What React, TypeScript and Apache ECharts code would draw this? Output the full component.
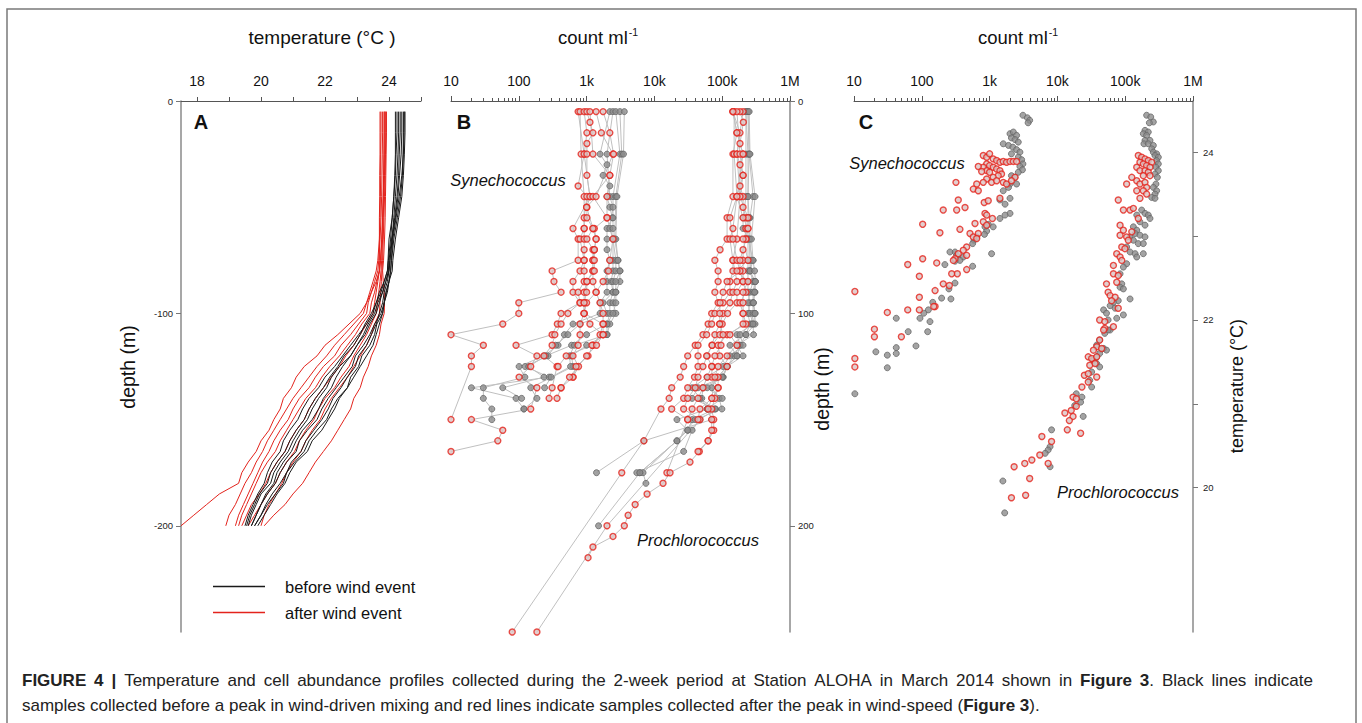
import React, { useEffect, useRef } from 'react';
import * as echarts from 'echarts';

const FONT = '"Liberation Sans", Arial, Helvetica, sans-serif';

// ---------- Panel A: temperature profiles (depth m, temperature °C) ----------
const depthsA = [5, 15, 25, 35, 45, 55, 65, 75, 80, 85, 90, 95, 100, 105, 110, 115, 120, 125, 130, 135, 140, 145, 150, 155, 160, 165, 170, 175, 180, 185, 190, 195, 200];
const tempBefore = [
  [24.45, 24.45, 24.44, 24.42, 24.36, 24.26, 24.15, 24.08, 24.05, 24.0, 23.95, 23.85, 23.8, 23.62, 23.55, 23.4, 23.15, 23.05, 22.8, 22.7, 22.45, 22.3, 22.1, 21.9, 21.6, 21.45, 21.1, 20.9, 20.75, 20.5, 20.3, 20.1, 19.9],
  [24.3, 24.3, 24.28, 24.25, 24.2, 24.15, 24.1, 24.03, 24.0, 23.9, 23.8, 23.7, 23.6, 23.4, 23.25, 23.0, 22.8, 22.45, 22.2, 22.05, 21.8, 21.6, 21.45, 21.2, 21.0, 20.85, 20.6, 20.4, 20.3, 20.0, 19.85, 19.7, 19.6],
  [24.5, 24.5, 24.48, 24.45, 24.4, 24.3, 24.2, 24.12, 24.1, 24.0, 23.9, 23.85, 23.75, 23.55, 23.4, 23.2, 22.95, 22.85, 22.6, 22.35, 22.1, 21.9, 21.75, 21.45, 21.2, 21.1, 20.8, 20.6, 20.45, 20.2, 20.0, 19.85, 19.7],
  [24.2, 24.2, 24.2, 24.18, 24.15, 24.1, 24.05, 23.98, 23.95, 23.85, 23.75, 23.6, 23.5, 23.3, 23.05, 22.8, 22.55, 22.3, 22.0, 21.8, 21.5, 21.3, 21.15, 20.9, 20.7, 20.6, 20.35, 20.2, 20.1, 19.9, 19.75, 19.6, 19.5],
  [24.4, 24.4, 24.38, 24.33, 24.28, 24.2, 24.1, 24.03, 24.0, 23.95, 23.85, 23.8, 23.7, 23.6, 23.45, 23.3, 23.05, 22.95, 22.7, 22.5, 22.25, 22.1, 21.9, 21.65, 21.4, 21.25, 20.95, 20.8, 20.6, 20.35, 20.15, 20.0, 19.8],
  [24.35, 24.35, 24.32, 24.3, 24.25, 24.18, 24.08, 24.0, 23.98, 23.9, 23.8, 23.65, 23.55, 23.35, 23.2, 23.0, 22.8, 22.55, 22.35, 22.2, 21.95, 21.8, 21.6, 21.3, 21.1, 20.95, 20.7, 20.5, 20.4, 20.15, 20.0, 19.85, 19.7],
  [24.25, 24.25, 24.22, 24.2, 24.15, 24.1, 24.0, 23.97, 23.95, 23.85, 23.7, 23.6, 23.45, 23.25, 23.1, 22.9, 22.6, 22.4, 22.15, 21.95, 21.7, 21.5, 21.35, 21.1, 20.9, 20.75, 20.5, 20.3, 20.2, 19.95, 19.8, 19.65, 19.55],
  [24.48, 24.47, 24.45, 24.4, 24.32, 24.22, 24.12, 24.07, 24.05, 24.0, 23.92, 23.85, 23.8, 23.7, 23.6, 23.5, 23.3, 23.1, 22.9, 22.7, 22.4, 22.2, 22.05, 21.75, 21.5, 21.35, 21.05, 20.8, 20.7, 20.45, 20.2, 20.0, 19.8],
];
const tempAfter = [
  [23.85, 23.85, 23.84, 23.83, 23.82, 23.8, 23.78, 23.74, 23.7, 23.6, 23.45, 23.3, 23.1, 22.75, 22.4, 22.0, 21.75, 21.35, 21.1, 20.95, 20.7, 20.6, 20.4, 20.25, 20.0, 19.85, 19.6, 19.4, 19.3, 18.7, 18.3, 17.9, 17.5],
  [23.92, 23.92, 23.91, 23.9, 23.89, 23.88, 23.86, 23.83, 23.8, 23.82, 23.85, 23.86, 23.85, 23.75, 23.7, 23.6, 23.45, 23.35, 23.2, 23.1, 22.9, 22.8, 22.6, 22.4, 22.2, 21.95, 21.7, 21.5, 21.3, 21.0, 20.75, 20.4, 20.1],
  [23.75, 23.75, 23.74, 23.74, 23.73, 23.72, 23.7, 23.65, 23.6, 23.5, 23.4, 23.3, 23.2, 22.9, 22.6, 22.3, 22.05, 21.75, 21.5, 21.25, 21.0, 20.8, 20.6, 20.4, 20.2, 20.05, 19.85, 19.7, 19.5, 19.35, 19.2, 19.0, 18.9],
  [23.85, 23.85, 23.85, 23.84, 23.82, 23.8, 23.77, 23.73, 23.7, 23.62, 23.55, 23.45, 23.4, 23.15, 22.95, 22.7, 22.45, 22.15, 21.9, 21.7, 21.4, 21.2, 21.0, 20.8, 20.6, 20.45, 20.2, 20.0, 19.85, 19.7, 19.55, 19.4, 19.3],
  [23.8, 23.8, 23.79, 23.78, 23.77, 23.75, 23.72, 23.68, 23.65, 23.55, 23.45, 23.35, 23.3, 23.05, 22.8, 22.5, 22.3, 21.95, 21.7, 21.5, 21.2, 21.0, 20.85, 20.6, 20.4, 20.25, 20.05, 19.9, 19.75, 19.6, 19.45, 19.3, 19.2],
  [23.88, 23.88, 23.87, 23.86, 23.84, 23.82, 23.8, 23.77, 23.75, 23.72, 23.68, 23.64, 23.6, 23.45, 23.3, 23.1, 22.9, 22.75, 22.5, 22.3, 22.0, 21.8, 21.65, 21.4, 21.2, 21.05, 20.8, 20.6, 20.45, 20.2, 20.0, 19.8, 19.6],
  [23.72, 23.72, 23.72, 23.71, 23.71, 23.7, 23.7, 23.7, 23.7, 23.65, 23.6, 23.55, 23.5, 23.3, 23.1, 22.9, 22.65, 22.45, 22.2, 21.95, 21.7, 21.5, 21.35, 21.1, 20.9, 20.75, 20.5, 20.3, 20.15, 19.95, 19.7, 19.55, 19.4],
  [23.9, 23.9, 23.89, 23.88, 23.86, 23.84, 23.82, 23.8, 23.78, 23.76, 23.74, 23.72, 23.7, 23.55, 23.45, 23.3, 23.1, 22.9, 22.7, 22.45, 22.2, 22.0, 21.85, 21.6, 21.4, 21.25, 21.0, 20.8, 20.65, 20.45, 20.25, 20.1, 20.0],
];

// ---------- Panel B: cell count profiles ([count per ml, depth m]) ----------
const synAfter = [
  [[750, 5], [920, 25], [1120, 45], [630, 60], [750, 65], [750, 75], [310, 80], [330, 85], [420, 90], [100, 95], [100, 100], [58, 105], [10, 110], [30, 115], [20, 120], [20, 125], [10, 150]],
  [[800, 5], [830, 25], [920, 45], [920, 60], [800, 65], [920, 75], [800, 80], [630, 85], [630, 90], [800, 95], [420, 100], [370, 105], [310, 110], [91, 115], [185, 120], [150, 125], [101, 130], [185, 135], [150, 145], [20, 150], [58, 155], [49, 160], [10, 165]],
  [[920, 5], [1010, 15], [920, 25], [750, 40], [1010, 45], [920, 55], [920, 60], [920, 65], [920, 70], [920, 75], [920, 80], [920, 85], [750, 90], [800, 95], [530, 100], [420, 105], [340, 110], [310, 115], [235, 120], [366, 125], [310, 135], [280, 140]],
  [[1010, 5], [1120, 10], [1240, 15], [1010, 20], [1010, 25], [1010, 35], [1120, 45], [1010, 50], [1010, 55], [1240, 60], [1010, 65], [1240, 70], [1240, 75], [1240, 80], [1010, 85], [920, 90], [920, 95], [920, 100], [800, 105], [800, 110], [750, 115], [630, 120], [760, 125], [631, 130], [420, 135], [366, 140]],
  [[1120, 5], [1240, 25], [2200, 35], [1240, 45], [2000, 55], [1300, 60], [1380, 65], [1300, 70], [1240, 75], [1240, 80], [1240, 85], [1380, 90], [1000, 95], [920, 100], [1750, 105], [1580, 110], [1240, 115], [1050, 120], [700, 125], [630, 130]],
  [[1380, 5], [1650, 15], [2450, 25], [1380, 45], [1000, 50], [1240, 60], [1380, 65], [1300, 70], [1300, 75], [1300, 80], [1010, 85], [1000, 90], [920, 95], [916, 100], [1120, 105], [1750, 110], [1200, 115], [500, 120], [380, 125]],
  [[1750, 5], [2200, 15], [2500, 25], [2200, 35], [2000, 45], [2000, 55], [2450, 65], [2200, 75], [2100, 80], [1750, 85], [1380, 90], [1580, 95], [1750, 100], [1750, 105], [1750, 110], [1400, 115], [1000, 120], [560, 130], [420, 135]],
];
const synBefore = [
  [[2200, 5], [1580, 25], [2000, 30], [1750, 35], [2200, 40], [2000, 45], [2200, 50], [2400, 55], [2000, 60], [2000, 65], [2000, 70], [2200, 75], [2000, 80], [2000, 85], [2000, 90], [1580, 95], [1580, 100], [630, 105], [470, 110], [380, 115], [235, 120], [101, 125], [123, 130], [30, 135], [30, 140], [40, 145], [40, 150]],
  [[2450, 5], [2000, 25], [2200, 45], [2450, 50], [2200, 60], [2450, 65], [2450, 75], [2450, 80], [2300, 85], [2450, 90], [1750, 95], [2000, 100], [800, 105], [530, 110], [350, 115], [270, 120], [124, 125], [280, 130], [20, 135], [91, 140], [119, 145]],
  [[2700, 5], [3100, 25], [2450, 45], [2450, 55], [2450, 60], [2450, 65], [2700, 75], [2700, 80], [2450, 85], [2450, 90], [2200, 95], [2200, 100], [2000, 105], [1000, 110], [600, 115], [250, 120], [140, 125], [235, 130], [58, 135], [110, 140]],
  [[3100, 5], [3300, 25], [2700, 45], [2600, 65], [2900, 75], [3100, 80], [3100, 85], [2700, 90], [2450, 95], [2700, 100], [2200, 105], [2000, 110], [1000, 115], [600, 120], [630, 125], [150, 135], [185, 140], [119, 145]],
  [[3600, 5], [3500, 25], [2800, 45], [2700, 65], [2900, 75], [3110, 80], [2700, 85], [2700, 90], [2700, 95], [2450, 100], [2000, 105], [2000, 110], [660, 115], [560, 120], [580, 125], [300, 130], [240, 135]],
];
const proAfter = [
  [[144000, 5], [165000, 15], [144000, 25], [144000, 45], [118000, 55], [118000, 65], [93000, 70], [78000, 75], [87000, 80], [87000, 85], [78000, 90], [87000, 95], [70000, 100], [62000, 105], [52000, 110], [40000, 115], [31000, 120], [27000, 125], [24000, 130], [18000, 135], [16500, 140], [12500, 145], [7000, 160], [3300, 175], [80, 250]],
  [[150000, 5], [150000, 25], [165000, 45], [144000, 60], [130000, 65], [144000, 75], [144000, 80], [130000, 85], [130000, 90], [103000, 95], [78000, 100], [70000, 105], [59000, 110], [44000, 115], [44000, 120], [44000, 125], [39000, 130], [31000, 135], [27000, 140], [18000, 145], [31000, 150], [15300, 175]],
  [[203000, 5], [165000, 25], [183000, 45], [165000, 65], [144000, 75], [165000, 85], [144000, 90], [130000, 95], [103000, 100], [92000, 105], [78000, 110], [71000, 115], [60000, 120], [52000, 125], [44000, 130], [40000, 135], [31000, 140], [27000, 145], [47000, 150], [2000, 200], [185, 250]],
  [[144000, 5], [183000, 15], [165000, 25], [203000, 35], [165000, 45], [130000, 55], [144000, 65], [165000, 75], [183000, 80], [203000, 85], [165000, 90], [165000, 95], [120000, 100], [100000, 105], [92000, 110], [71000, 115], [59000, 120], [71000, 125], [70000, 130], [87000, 135], [71000, 140], [47000, 145], [44000, 150]],
  [[183000, 5], [205000, 10], [183000, 20], [203000, 25], [183000, 30], [183000, 40], [203000, 45], [203000, 50], [224000, 55], [224000, 60], [224000, 65], [203000, 70], [203000, 75], [203000, 80], [203000, 85], [224000, 90], [183000, 95], [203000, 100], [224000, 105], [118000, 110], [87000, 115], [92000, 120], [118000, 125], [87000, 130], [87000, 135], [78000, 140], [70000, 145], [75000, 150], [75000, 155], [62000, 160], [46000, 165], [33500, 170], [17000, 175], [13400, 180], [7800, 185], [5200, 190], [4100, 195], [3600, 200], [2450, 205], [1240, 210], [1050, 215]],
  [[165000, 5], [183000, 25], [203000, 35], [183000, 45], [240000, 55], [240000, 60], [224000, 65], [183000, 75], [183000, 80], [118000, 85], [103000, 90], [93000, 95], [92000, 100], [92000, 105], [103000, 110], [96000, 115], [78000, 120], [70000, 125], [60000, 130], [52000, 135], [44000, 140], [36000, 145], [31000, 150]],
  [[144000, 5], [165000, 15], [203000, 25], [165000, 45], [203000, 55], [240000, 60], [203000, 65], [240000, 75], [165000, 80], [240000, 85], [203000, 90], [203000, 95], [203000, 100], [203000, 105], [130000, 110], [165000, 115], [118000, 120], [87000, 125], [78000, 130], [70000, 140], [62000, 145], [70000, 150], [70000, 155], [62000, 160], [44000, 165]],
];
const proBefore = [
  [[224000, 5], [224000, 25], [224000, 45], [203000, 55], [203000, 60], [240000, 65], [240000, 75], [240000, 80], [240000, 85], [240000, 90], [257000, 95], [240000, 100], [257000, 105], [224000, 110], [183000, 115], [165000, 120], [118000, 125], [103000, 130], [52000, 135], [50000, 140], [60000, 145], [21500, 150], [31000, 155], [21500, 160], [6100, 175], [1500, 200]],
  [[224000, 5], [240000, 25], [240000, 45], [240000, 55], [240000, 65], [285000, 75], [257000, 80], [285000, 85], [257000, 90], [240000, 95], [257000, 100], [285000, 105], [165000, 110], [183000, 115], [150000, 120], [118000, 125], [103000, 130], [44000, 135], [36000, 140], [80000, 145], [47000, 150], [36000, 155], [27000, 165], [5500, 175]],
  [[240000, 5], [250000, 25], [285000, 45], [257000, 55], [257000, 65], [270000, 75], [257000, 80], [305000, 85], [285000, 90], [285000, 95], [285000, 100], [270000, 105], [183000, 110], [203000, 115], [130000, 120], [103000, 125], [60000, 130], [36000, 135], [47000, 140], [78000, 145], [36000, 150], [31000, 155], [6800, 175], [7500, 180]],
  [[240000, 5], [250000, 25], [240000, 45], [250000, 55], [250000, 65], [257000, 75], [257000, 80], [305000, 85], [305000, 90], [285000, 95], [305000, 100], [305000, 105], [224000, 110], [130000, 115], [165000, 120], [118000, 125], [85000, 130], [70000, 135], [90000, 140], [99000, 145], [40000, 150], [21500, 160], [6100, 175]],
  [[250000, 5], [257000, 25], [305000, 45], [270000, 65], [285000, 75], [300000, 80], [310000, 85], [300000, 90], [290000, 95], [305000, 100], [285000, 105], [290000, 110], [165000, 115], [203000, 120], [118000, 125], [100000, 130], [60000, 135], [100000, 140], [60000, 145], [70000, 150], [7000, 160], [1400, 175]],
];

// ---------- Panel C: count vs temperature ([count per ml, temperature °C]) ----------
const synTempBefore = [
  [3100, 24.44], [3600, 24.41], [3900, 24.38], [3700, 24.35], [2000, 24.22], [2240, 24.24], [2500, 24.2], [2100, 24.17], [2370, 24.15], [2650, 24.12],
  [1590, 24.1], [1900, 24.08], [2200, 24.06], [2500, 24.03], [2800, 24.0], [2100, 23.98], [2650, 23.94], [2970, 23.91], [3100, 23.86], [2800, 23.83],
  [3050, 23.79], [2650, 23.76], [2100, 23.72], [2370, 23.7], [2000, 23.62], [2500, 23.62], [1900, 23.58], [1590, 23.54], [2000, 23.45], [1420, 23.43],
  [1690, 23.38], [2000, 23.27], [1690, 23.25], [1420, 23.21], [1130, 23.11], [955, 23.14], [855, 23.11], [905, 23.06], [840, 23.02], [646, 22.99],
  [589, 22.95], [1070, 22.79], [562, 22.91], [309, 22.81], [260, 22.81], [327, 22.77], [409, 22.75], [365, 22.71], [309, 22.7], [562, 22.64],
  [219, 22.66], [309, 22.44], [251, 22.37], [269, 22.25], [196, 22.26], [145, 22.21], [125, 22.12], [94, 22.02], [107, 22.08], [132, 21.98],
  [122, 21.86], [63, 21.86], [42, 22.02], [82, 21.69], [42, 21.67], [42, 21.6], [31, 21.58], [31, 21.43], [21, 21.62], [10.3, 21.12],
];
const synTempAfter = [
  [807, 23.96], [906, 23.94], [1000, 23.98], [1130, 23.92], [1270, 23.9], [1420, 23.88], [1590, 23.89], [1780, 23.88], [2000, 23.89], [2240, 23.89],
  [2500, 23.89], [906, 23.86], [1000, 23.84], [1130, 23.82], [1270, 23.8], [807, 23.82], [906, 23.78], [1000, 23.76], [681, 23.83], [764, 23.77],
  [1420, 23.78], [1500, 23.74], [1340, 23.72], [1130, 23.7], [906, 23.68], [807, 23.64], [646, 23.62], [575, 23.56], [681, 23.54], [1070, 23.64],
  [1270, 23.66], [1590, 23.64], [1780, 23.62], [2370, 23.7], [2100, 23.66], [319, 23.64], [345, 23.43], [434, 23.34], [327, 23.31], [207, 23.31],
  [833, 23.4], [955, 23.42], [1420, 23.45], [855, 23.27], [906, 23.25], [1100, 23.21], [807, 23.17], [906, 23.13], [609, 23.15], [514, 23.03],
  [575, 22.99], [681, 23.03], [646, 22.97], [365, 23.08], [185, 23.04], [103, 23.14], [459, 22.87], [409, 22.83], [345, 22.79], [459, 22.77],
  [309, 22.73], [292, 22.71], [166, 22.68], [103, 22.73], [62, 22.66], [459, 22.6], [334, 22.55], [276, 22.55], [92, 22.52], [207, 22.43],
  [255, 22.41], [157, 22.35], [92, 22.27], [157, 22.16], [150, 22.16], [92, 22.12], [62, 22.12], [31, 22.09], [20, 21.89], [20, 21.8],
  [50, 21.8], [10.3, 22.34], [10.3, 21.54], [10.3, 21.44],
];
const proTempBefore = [
  [207000, 24.44], [238000, 24.42], [260000, 24.36], [227000, 24.35], [196000, 24.26], [219000, 24.24], [185000, 24.22], [207000, 24.2], [196000, 24.14], [232000, 24.14],
  [189000, 24.1], [219000, 24.1], [260000, 24.08], [246000, 24.04], [260000, 24.0], [291000, 23.98], [275000, 23.96], [308000, 23.94], [291000, 23.9], [308000, 23.86],
  [284000, 23.82], [308000, 23.78], [275000, 23.74], [298000, 23.7], [284000, 23.62], [260000, 23.58], [291000, 23.54], [275000, 23.5], [246000, 23.46], [275000, 23.45],
  [175000, 23.31], [196000, 23.27], [219000, 23.25], [232000, 23.21], [148000, 23.25], [165000, 23.17], [196000, 23.13], [132000, 23.11], [148000, 23.07], [140000, 23.03],
  [165000, 23.01], [196000, 22.99], [118000, 22.99], [132000, 22.95], [156000, 22.91], [185000, 22.91], [105000, 22.87], [118000, 22.81], [140000, 22.79], [185000, 22.79],
  [148000, 22.75], [105000, 22.67], [94000, 22.63], [84000, 22.55], [89000, 22.43], [84000, 22.39], [94000, 22.37], [118000, 22.25], [79000, 22.23], [67000, 22.21],
  [60000, 22.17], [71000, 22.14], [94000, 22.06], [75000, 22.02], [56000, 22.0], [48000, 22.12], [53000, 22.08], [60000, 21.88], [50000, 21.84], [56000, 21.88],
  [42000, 21.76], [38000, 21.7], [48000, 21.66], [53000, 21.64], [42000, 21.6], [38000, 21.56], [34000, 21.52], [38000, 21.48], [42000, 21.44], [32000, 21.38],
  [30000, 21.28], [32000, 21.2], [23000, 21.08], [19000, 21.12], [22000, 21.02], [18000, 20.98], [24000, 20.85], [8200, 20.69], [7800, 20.49], [7300, 20.45],
  [6600, 20.41], [7800, 20.25], [1570, 20.08], [1670, 19.7],
];
const proTempAfter = [
  [156000, 23.96], [175000, 23.94], [196000, 23.92], [219000, 23.9], [246000, 23.88], [165000, 23.88], [185000, 23.86], [207000, 23.84], [232000, 23.82], [148000, 23.82],
  [165000, 23.78], [196000, 23.78], [219000, 23.76], [185000, 23.72], [232000, 23.72], [148000, 23.66], [125000, 23.7], [105000, 23.62], [165000, 23.62], [196000, 23.64],
  [207000, 23.58], [148000, 23.54], [185000, 23.54], [207000, 23.5], [165000, 23.45], [79000, 23.43], [94000, 23.31], [118000, 23.31], [132000, 23.33], [156000, 23.21],
  [84000, 23.13], [94000, 23.07], [84000, 23.01], [105000, 22.99], [125000, 23.05], [111000, 22.95], [89000, 22.87], [99000, 22.85], [75000, 22.79], [84000, 22.75],
  [89000, 22.71], [67000, 22.65], [67000, 22.55], [79000, 22.53], [75000, 22.45], [53000, 22.43], [56000, 22.33], [60000, 22.29], [71000, 22.27], [63000, 22.23],
  [79000, 22.14], [42000, 22.0], [50000, 21.98], [50000, 21.9], [67000, 21.92], [48000, 21.88], [42000, 21.76], [38000, 21.68], [45000, 21.66], [34000, 21.64],
  [28500, 21.56], [32000, 21.54], [30000, 21.46], [38000, 21.56], [36000, 21.48], [25000, 21.34], [28500, 21.36], [38000, 21.32], [28500, 21.26], [23000, 21.2],
  [17000, 21.08], [19000, 21.06], [19000, 20.97], [16000, 20.92], [17000, 20.85], [12900, 20.89], [15000, 20.8], [14000, 20.69], [22000, 20.65], [5900, 20.61],
  [8200, 20.55], [5500, 20.39], [7300, 20.29], [4200, 20.33], [3900, 20.11], [3300, 20.29], [2300, 20.25], [3400, 19.91], [2100, 19.88],
];

// ---------- Axis ticks ----------
const tempTicks = [18, 19, 20, 21, 22, 23, 24, 25];
const tempTickLabels = [18, 20, 22, 24];
const depthTicks = [0, 100, 200];
const countMajor = [10, 100, 1000, 10000, 100000, 1000000];
const countMajorLabels = ['10', '100', '1k', '10k', '100k', '1M'];
const countMinorSteps = [2, 3, 4, 5, 6, 7, 8, 9];
const tempCTicks = [20, 21, 22, 23, 24];
const tempCTickLabels = [20, 22, 24];

// caption ("*" toggles bold)
const caption1 = '*FIGURE 4 |* Temperature and cell abundance profiles collected during the 2-week period at Station ALOHA in March 2014 shown in *Figure 3*. Black lines indicate';
const caption2 = 'samples collected before a peak in wind-driven mixing and red lines indicate samples collected after the peak in wind-speed (*Figure 3*).';

const RED = '#e3231c';
const BLACK = '#1a1a1a';

function richLine(src: string, spaceStyle: string) {
  let out = '';
  let bold = false;
  let buf = '';
  const flush = () => {
    if (buf) {
      out += `{${bold ? 'b' : 'n'}|${buf}}`;
      buf = '';
    }
  };
  for (const ch of src) {
    if (ch === '*') {
      flush();
      bold = !bold;
    } else if (ch === ' ') {
      flush();
      out += `{${spaceStyle}| }`;
    } else buf += ch;
  }
  flush();
  return out;
}

export default function App() {
  const ref = useRef<HTMLDivElement>(null);

  useEffect(() => {
    const chart = echarts.init(ref.current!, null, { renderer: 'svg' });

    const countMinor: number[] = [];
    countMajor.slice(0, 5).forEach((d) => countMinorSteps.forEach((s) => countMinor.push(d * s)));

    const logAxis = (gridIndex: number, minor: boolean) => ({
      type: 'log',
      logBase: 10,
      min: 10,
      max: 1000000,
      gridIndex,
      position: 'top',
      axisLine: { show: !minor, lineStyle: { color: '#555', width: 1 } },
      axisTick: {
        show: true,
        inside: false,
        length: minor ? 3 : 5,
        customValues: minor ? countMinor : countMajor,
        lineStyle: { color: '#555', width: 1 },
      },
      axisLabel: {
        show: !minor,
        customValues: countMajor,
        formatter: (v: number) => countMajorLabels[Math.round(Math.log10(v)) - 1] ?? '',
        fontSize: 14,
        color: '#111',
        margin: 13,
        fontFamily: FONT,
      },
      splitLine: { show: false },
      minorTick: { show: false },
    });

    const depthAxis = (gridIndex: number, position: string, neg: boolean) => ({
      type: 'value',
      gridIndex,
      position,
      min: 0,
      max: 250,
      inverse: true,
      axisLine: { show: true, lineStyle: { color: '#8a8a8a', width: 1.5 } },
      axisTick: { show: true, customValues: depthTicks, length: 5, lineStyle: { color: '#777' } },
      axisLabel: {
        customValues: depthTicks,
        formatter: (v: number) => (neg && v !== 0 ? '-' + v : String(v)),
        fontSize: 9.5,
        color: '#222',
        margin: 8,
        fontFamily: FONT,
      },
      splitLine: { show: false },
    });

    const series: any[] = [];
    tempBefore.forEach((t) =>
      series.push({
        type: 'line', name: 'before wind event', xAxisIndex: 0, yAxisIndex: 0,
        data: depthsA.map((d, i) => [t[i], d]), showSymbol: false, symbol: 'none',
        color: BLACK, lineStyle: { color: BLACK, width: 1 }, silent: true, z: 3,
      })
    );
    tempAfter.forEach((t) =>
      series.push({
        type: 'line', name: 'after wind event', xAxisIndex: 0, yAxisIndex: 0,
        data: depthsA.map((d, i) => [t[i], d]), showSymbol: false, symbol: 'none',
        color: RED, lineStyle: { color: RED, width: 1 }, silent: true, z: 2,
      })
    );

    const profileLines = (profiles: number[][][], name: string) =>
      profiles.forEach((p) =>
        series.push({
          type: 'line', name, xAxisIndex: 1, yAxisIndex: 1, data: p,
          showSymbol: false, symbol: 'none', lineStyle: { color: '#c0c0c0', width: 1 },
          silent: true, z: 2,
        })
      );
    profileLines(synBefore, 'Synechococcus before');
    profileLines(synAfter, 'Synechococcus after');
    profileLines(proBefore, 'Prochlorococcus before');
    profileLines(proAfter, 'Prochlorococcus after');

    const grayDot = { color: '#8c8c8c', borderColor: '#666', borderWidth: 1 };
    const redDot = { color: '#dcc3c3', borderColor: RED, borderWidth: 1.4 };
    const dots = (data: number[][], xi: number, yi: number, red: boolean, name: string) =>
      series.push({
        type: 'scatter', name, xAxisIndex: xi, yAxisIndex: yi, data,
        symbol: 'circle', symbolSize: 6, itemStyle: red ? redDot : grayDot,
        silent: true, z: red ? 6 : 5,
      });
    dots(([] as number[][]).concat(...synBefore, ...proBefore), 1, 1, false, 'before (B)');
    dots(([] as number[][]).concat(...synAfter, ...proAfter), 1, 1, true, 'after (B)');
    dots(synTempBefore.concat(proTempBefore), 3, 2, false, 'before (C)');
    dots(synTempAfter.concat(proTempAfter), 3, 2, true, 'after (C)');

    const txt = (x: number, y: number, text: string, extra: any = {}, rotation = 0) => ({
      type: 'text', x, y, rotation, silent: true,
      style: { text, fontFamily: FONT, fill: '#111', align: 'center', verticalAlign: 'middle', ...extra },
    });
    const countTitle = (x: number, y: number) => ({
      type: 'text', x, y, silent: true,
      style: {
        text: '{a|count ml}{s|-1}', align: 'center', verticalAlign: 'middle',
        rich: {
          a: { fontSize: 18.5, fontFamily: FONT, fill: '#111', lineHeight: 22 },
          s: { fontSize: 10.5, fontFamily: FONT, fill: '#111', verticalAlign: 'top', lineHeight: 22, padding: [0, 0, 6, 1] },
        },
      },
    });
    const capRich = {
      n: { fontFamily: FONT, fontSize: 17, fill: '#222' },
      b: { fontFamily: FONT, fontSize: 17, fontWeight: 'bold', fill: '#222' },
      w: { fontFamily: FONT, fontSize: 17, fill: '#222', width: 7.9 },
    };

    const option: any = {
      animation: false,
      backgroundColor: '#ffffff',
      legend: {
        data: ['before wind event', 'after wind event'],
        orient: 'vertical',
        left: 208,
        top: 573,
        icon: 'rect',
        itemWidth: 52,
        itemHeight: 1.3,
        itemGap: 9,
        selectedMode: false,
        textStyle: { fontSize: 16.5, color: '#111', fontFamily: FONT, padding: [0, 0, 0, 15] },
      },
      grid: [
        { left: 181, top: 101, width: 240, height: 531 },
        { left: 451, top: 101, width: 339, height: 531 },
        { left: 854, top: 101, width: 339, height: 531 },
      ],
      xAxis: [
        {
          type: 'value', gridIndex: 0, position: 'top', min: 17.5, max: 25,
          axisLine: { show: true, lineStyle: { color: '#555', width: 1 } },
          axisTick: { show: true, customValues: tempTicks, length: 4, lineStyle: { color: '#555' } },
          axisLabel: { customValues: tempTickLabels, fontSize: 14, color: '#111', margin: 13, fontFamily: FONT },
          splitLine: { show: false },
        },
        logAxis(1, false),
        logAxis(1, true),
        logAxis(2, false),
        logAxis(2, true),
      ],
      yAxis: [
        depthAxis(0, 'left', true),
        depthAxis(1, 'right', false),
        {
          type: 'value', gridIndex: 2, position: 'right', min: 18.28, max: 24.61,
          axisLine: { show: true, lineStyle: { color: '#8a8a8a', width: 1.5 } },
          axisTick: { show: true, customValues: tempCTicks, length: 5, lineStyle: { color: '#777' } },
          axisLabel: { customValues: tempCTickLabels, fontSize: 9.5, color: '#222', margin: 10, fontFamily: FONT },
          splitLine: { show: false },
        },
      ],
      series,
      graphic: [
        { type: 'rect', silent: true, shape: { x: 7, y: 9, width: 1349, height: 760 }, style: { fill: 'none', stroke: '#7a7a7a', lineWidth: 1.5 } },
        txt(322, 37, 'temperature (°C )', { fontSize: 19 }),
        countTitle(598, 37),
        countTitle(1018, 37),
        txt(201, 122, 'A', { fontSize: 20, fontWeight: 'bold' }),
        txt(464, 122, 'B', { fontSize: 20, fontWeight: 'bold' }),
        txt(866, 122, 'C', { fontSize: 20, fontWeight: 'bold' }),
        txt(508, 180, 'Synechococcus', { fontSize: 16.5, fontStyle: 'italic' }),
        txt(698, 540, 'Prochlorococcus', { fontSize: 16.5, fontStyle: 'italic' }),
        txt(907, 163, 'Synechococcus', { fontSize: 16.5, fontStyle: 'italic' }),
        txt(1118, 492, 'Prochlorococcus', { fontSize: 16.5, fontStyle: 'italic' }),
        txt(128, 367, 'depth (m)', { fontSize: 19.5 }, Math.PI / 2),
        txt(822, 389, 'depth (m)', { fontSize: 19.5 }, Math.PI / 2),
        txt(1237, 386, 'temperature (°C)', { fontSize: 18 }, Math.PI / 2),
        {
          type: 'text', x: 22, y: 680, silent: true,
          style: { text: richLine(caption1, 'w'), verticalAlign: 'middle', rich: capRich },
        },
        {
          type: 'text', x: 22, y: 705, silent: true,
          style: { text: richLine(caption2, 'n'), verticalAlign: 'middle', rich: capRich },
        },
      ],
    };

    chart.setOption(option);
    return () => chart.dispose();
  }, []);

  return (
    <div
      ref={ref}
      style={{ position: 'absolute', left: 0, top: 0, width: 1362, height: 723, background: '#fff' }}
    />
  );
}
